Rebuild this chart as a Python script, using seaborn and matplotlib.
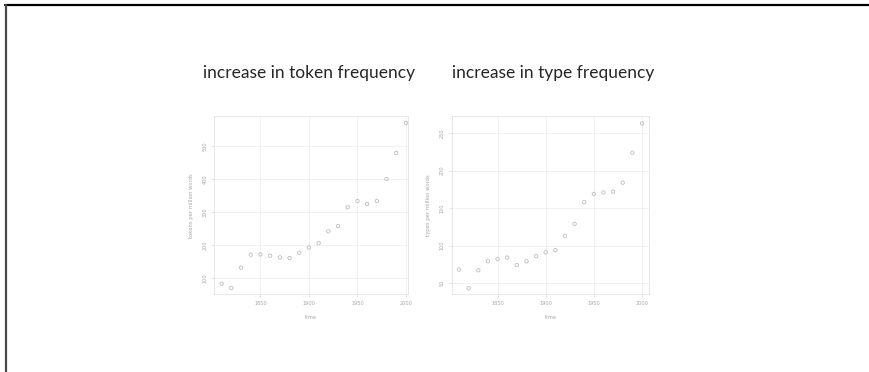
import numpy as np
import pandas as pd
import seaborn as sns
import matplotlib.pyplot as plt
from matplotlib.lines import Line2D

# decades 1810-2000
years = [1810, 1820, 1830, 1840, 1850, 1860, 1870, 1880, 1890, 1900,
         1910, 1920, 1930, 1940, 1950, 1960, 1970, 1980, 1990, 2000]

# tokens per million words
tokens = [83, 70, 132, 171, 172, 168, 163, 161, 177, 193,
          206, 242, 258, 315, 334, 325, 334, 401, 480, 571]

# types per million words
types = [68, 43, 67, 79, 82, 84, 74, 79, 86, 91,
         94, 113, 129, 158, 169, 171, 172, 184, 224, 263]

titles = ["increase in token frequency", "increase in type frequency"]
ylabels = ["tokens per million words", "types per million words"]
yticks = [[100, 200, 300, 400, 500], [50, 100, 150, 200, 250]]
xticks = [1850, 1900, 1950, 2000]

df = pd.DataFrame({"time": years, "tokens": tokens, "types": types})

sns.set_style("white")
plt.rcParams['font.family'] = ['DejaVu Sans']

fig = plt.figure(figsize=(8.69, 3.72), dpi=100)

ax1 = fig.add_axes([0.2466, 0.2089, 0.2232, 0.4793])
ax2 = fig.add_axes([0.5198, 0.2089, 0.2274, 0.4793])

light = "#c8c8c8"
for ax, col, ylab, yt, lim, xl in [
        (ax1, "tokens", ylabels[0], yticks[0], (51, 592), (1802.4, 2002.4)),
        (ax2, "types", ylabels[1], yticks[1], (35, 273), (1802.4, 2007.6))]:
    ax.grid(True, color="#f0f0f0", linewidth=0.6)
    sns.scatterplot(data=df, x="time", y=col, ax=ax, s=6, marker="o",
                    facecolor="none", edgecolor="#bdbdbd", linewidth=0.6)
    ax.set_xlim(xl)
    ax.set_ylim(lim)
    ax.set_xticks(xticks)
    ax.set_yticks(yt)
    ax.set_yticklabels([str(v) for v in yt], rotation=90, va="center")
    ax.tick_params(axis="both", labelsize=3.6, colors=light, length=2,
                   width=0.4, pad=3, labelcolor="#a8a8a8", direction="out")
    ax.tick_params(axis="both", which="both", bottom=True, left=True)
    ax.set_xlabel("time", fontsize=3.8, color="#a8a8a8", labelpad=6)
    ax.set_ylabel(ylab, fontsize=3.8, color="#a8a8a8", labelpad=6)
    for sp in ax.spines.values():
        sp.set_color("#e4e4e4")
        sp.set_linewidth(0.6)

fig.text(309.5 / 869, 1 - 73 / 372, titles[0], family=["Lato", "DejaVu Sans"],
         fontsize=12.5, color="#262626", ha="center", va="center")
fig.text(553 / 869, 1 - 73 / 372, titles[1], family=["Lato", "DejaVu Sans"],
         fontsize=12.5, color="#262626", ha="center", va="center")

# slide frame (top and left edges)
fig.add_artist(Line2D([5 / 869, 1], [1 - 4.5 / 372, 1 - 4.5 / 372],
                      color="black", linewidth=1.6, transform=fig.transFigure))
fig.add_artist(Line2D([5.5 / 869, 5.5 / 869], [0, 1 - 4.5 / 372],
                      color="#4a4a4a", linewidth=1.6, transform=fig.transFigure))

fig.savefig("out.png", dpi=100)
